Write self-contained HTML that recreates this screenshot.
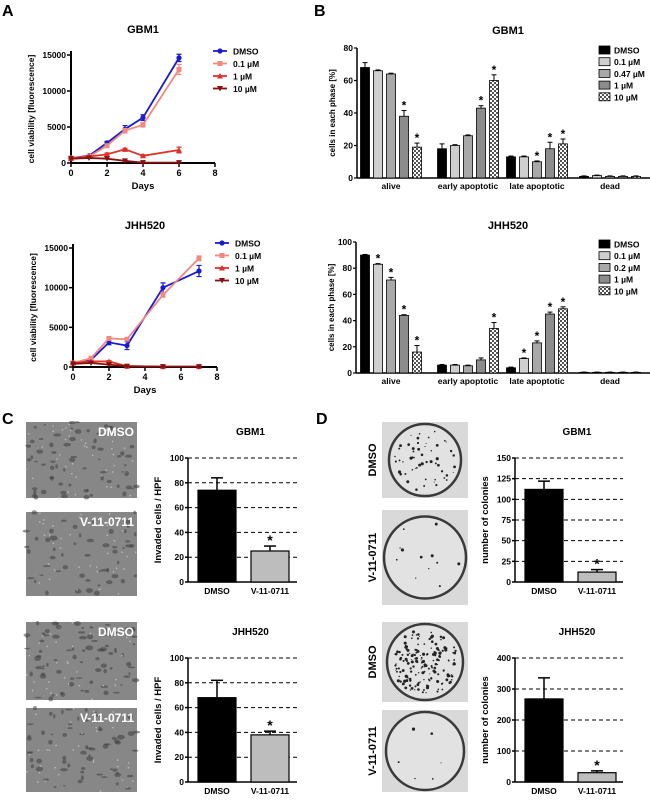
<!DOCTYPE html>
<html><head><meta charset="utf-8"><style>
body{margin:0;background:#fff;}
svg text{font-family:"Liberation Sans",Arial,sans-serif;font-weight:bold;}
</style></head><body>
<svg id="fig" width="650" height="795" viewBox="0 0 650 795" xmlns="http://www.w3.org/2000/svg">
<defs>
<pattern id="checker" width="4" height="4" patternUnits="userSpaceOnUse"><rect width="4" height="4" fill="#fff"/><rect width="2" height="2" fill="#555"/><rect x="2" y="2" width="2" height="2" fill="#555"/></pattern>
</defs>
<text x="2" y="16" font-size="16">A</text>
<text x="314" y="16" font-size="16">B</text>
<text x="2" y="424" font-size="16">C</text>
<text x="316" y="424" font-size="16">D</text>
</svg>
<script>
// ---- Panel A data ----
const gbmDays = [0,1,2,3,4,6];
const gbmDMSO = [700,1000,2800,4700,6300,14600];
const gbm01 = [700,900,2400,4500,5300,13000];
const gbm1 = [600,900,1200,1900,1000,1800];
const gbm10 = [600,700,600,300,50,50];
const gbmErr = [[100,100,200,500,400,500],[100,100,200,300,300,700],[100,100,200,150,150,400],[50,50,50,50,30,30]];
const jhhDays = [0,1,2,3,5,7];
const jhhDMSO = [500,900,3100,2700,10000,12100];
const jhh01 = [500,1100,3600,3500,9100,13700];
const jhh1 = [500,700,700,100,50,50];
const jhh10 = [400,500,300,100,50,50];
const jhhErr = [[100,100,300,500,600,700],[100,100,200,200,300,300],[50,50,100,50,30,30],[50,50,50,50,30,30]];
const lineLegend = ["DMSO","0.1 \u00b5M","1 \u00b5M","10 \u00b5M"];
const lineYTicks = [0,5000,10000,15000];
const lineXTicks = [0,2,4,6,8];
// ---- Panel B data ----
const phaseCats = ["alive","early apoptotic","late apoptotic","dead"];
const bGbm = [[68,66,64,38,19],[18,20,26,43,60],[13,13,10,18,21],[1,1.5,1,1,1]];
const bGbmErr = [[3,0.5,0.5,3.5,2.5],[3,0.5,0.5,1.5,3.5],[0.5,0.5,0.5,4,3],[0.3,0.3,0.3,0.3,0.3]];
const bGbmStar = [[0,0,0,1,1],[0,0,0,1,1],[0,0,1,1,1],[0,0,0,0,0]];
const bGbmLegend = ["DMSO","0.1 \u00b5M","0.47 \u00b5M","1 \u00b5M","10 \u00b5M"];
const bJhh = [[90,83,71,44,16],[6,6,5.5,10,34],[4,11,23,45,49],[0.5,0.5,0.5,0.5,0.5]];
const bJhhErr = [[0.5,0.5,2,0.5,5],[0.5,0.5,0.5,1.5,4.5],[0.5,0.5,1.5,1.5,1.5],[0.2,0.2,0.2,0.2,0.2]];
const bJhhStar = [[0,1,1,1,1],[0,0,0,0,1],[0,1,1,1,1],[0,0,0,0,0]];
const bJhhLegend = ["DMSO","0.1 \u00b5M","0.2 \u00b5M","1 \u00b5M","10 \u00b5M"];
// ---- Panel C/D data ----
const treatCats = ["DMSO","V-11-0711"];
const cGbm = [74,25]; const cGbmErr = [10,4];
const cJhh = [68,38]; const cJhhErr = [14,3];
const cTicks = [0,20,40,60,80,100];
const dGbm = [112,12]; const dGbmErr = [10,3];
const dGbmTicks = [0,25,50,75,100,125,150];
const dJhh = [268,30]; const dJhhErr = [68,6];
const dJhhTicks = [0,100,200,300,400];

const svg = document.getElementById('fig');
const NS = 'http://www.w3.org/2000/svg';
function mk(tag, attrs, name, parent){
  const el = document.createElementNS(NS, tag);
  for (const k in attrs) el.setAttribute(k, attrs[k]);
  
  
  (parent||svg).appendChild(el);
  return el;
}
function txt(x,y,s,size,name,anchor,extra){
  const a = Object.assign({x:x,y:y,'font-size':size,'text-anchor':anchor||'middle'}, extra||{});
  const t = mk('text', a, name);
  t.textContent = s;
  return t;
}
const lineColors = ['#1a1ad2','#f08a80','#e0302a','#8a1010'];
function marker(type,x,y,c,name){
  if(type===0) mk('circle',{cx:x,cy:y,r:2.6,fill:c},name);
  else if(type===1) mk('rect',{x:x-2.5,y:y-2.5,width:5,height:5,fill:c},name);
  else if(type===2) mk('polygon',{points:`${x},${y-3} ${x-3},${y+2.5} ${x+3},${y+2.5}`,fill:c},name);
  else mk('polygon',{points:`${x},${y+3} ${x-3},${y-2.5} ${x+3},${y-2.5}`,fill:c},name);
}
function lineChart(o){
  const xs = v => o.x0 + (o.x1-o.x0)*v/8;
  const ys = v => o.y0 - (o.y0-o.yt)*v/15000;
  txt((o.x0+o.x1)/2, o.title_y, o.title, 11, 'chart-title');
  mk('line',{x1:o.x0,y1:o.y0,x2:o.x0,y2:ys(15000)-4,stroke:'#000','stroke-width':2},'y-axis');
  mk('line',{x1:o.x0,y1:o.y0,x2:o.x1,y2:o.y0,stroke:'#000','stroke-width':2},'x-axis');
  lineYTicks.forEach(v=>{
    mk('line',{x1:o.x0-4,y1:ys(v),x2:o.x0,y2:ys(v),stroke:'#000','stroke-width':1.5},'y-tick');
    txt(o.x0-5, ys(v)+3, String(v), 8.5, 'y-tick-label','end');
  });
  lineXTicks.forEach(v=>{
    mk('line',{x1:xs(v),y1:o.y0,x2:xs(v),y2:o.y0+4,stroke:'#000','stroke-width':1.5},'x-tick');
    txt(xs(v), o.y0+13, String(v), 9, 'x-tick-label');
  });
  txt((o.x0+o.x1)/2, o.y0+26, 'Days', 9.5, 'x-axis-title');
  txt(0,0,'cell viability [fluorescence]',8.5,'y-axis-title','middle',{transform:`translate(${o.x0-37},${(o.y0+o.yt)/2}) rotate(-90)`});
  o.series.forEach((s,si)=>{
    const c = lineColors[si];
    const pts = s.map((v,i)=>xs(o.days[i])+','+ys(v)).join(' ');
    mk('polyline',{points:pts,fill:'none',stroke:c,'stroke-width':1.8},'series-line-'+si);
    s.forEach((v,i)=>{
      const e = o.err[si][i];
      const x = xs(o.days[i]);
      mk('path',{d:`M${x},${ys(v+e)}V${ys(v-e)}M${x-2.5},${ys(v+e)}H${x+2.5}M${x-2.5},${ys(v-e)}H${x+2.5}`,stroke:c,'stroke-width':1.2,fill:'none'},'error-bar');
      marker(si,x,ys(v),c,'data-point');
    });
  });
  lineLegend.forEach((l,i)=>{
    const y = o.leg_y + i*12.5;
    mk('line',{x1:o.leg_x,y1:y,x2:o.leg_x+14,y2:y,stroke:lineColors[i],'stroke-width':1.8},'legend-line');
    marker(i,o.leg_x+7,y,lineColors[i],'legend-marker');
    txt(o.leg_x+20,y+3.5,l,8.5,'legend-entry','start');
  });
}
lineChart({x0:71,x1:215,y0:163,yt:55,title:'GBM1',title_y:33,days:gbmDays,series:[gbmDMSO,gbm01,gbm1,gbm10],err:gbmErr,leg_x:213,leg_y:51});
lineChart({x0:73,x1:217,y0:367,yt:248,title:'JHH520',title_y:229,days:jhhDays,series:[jhhDMSO,jhh01,jhh1,jhh10],err:jhhErr,leg_x:215,leg_y:243});

const barFills = ['#000','#cfcfcf','#a8a8a8','#8c8c8c','url(#checker)'];
function phaseChart(o){
  const ys = v => o.y0 - (o.y0-o.yt)*v/o.ymax;
  txt(o.tx, o.title_y, o.title, 11, 'chart-title');
  mk('line',{x1:o.x0,y1:o.y0,x2:o.x0,y2:o.yt,stroke:'#000','stroke-width':1.5},'y-axis');
  mk('line',{x1:o.x0,y1:o.y0,x2:650,y2:o.y0,stroke:'#000','stroke-width':1.5},'x-axis');
  o.ticks.forEach(v=>{
    mk('line',{x1:o.x0-3,y1:ys(v),x2:o.x0,y2:ys(v),stroke:'#000','stroke-width':1.2},'y-tick');
    txt(o.x0-4, ys(v)+3, String(v), 8.5, 'y-tick-label','end');
  });
  txt(0,0,'cells in each phase [%]',8,'y-axis-title','middle',{transform:`translate(${o.x0-22},${(o.y0+o.yt)/2}) rotate(-90)`});
  const centers=[391,468,537,610];
  phaseCats.forEach((cat,ci)=>{
    txt(centers[ci], o.y0+11, cat, 8.5, 'x-category-label');
    o.data[ci].forEach((v,bi)=>{
      const x = centers[ci] + (bi-2)*13 - 4.5;
      const y = ys(v), e=o.err[ci][bi];
      mk('line',{x1:x+4.5,y1:y,x2:x+4.5,y2:ys(v+e),stroke:'#000','stroke-width':1},'error-bar');
      mk('line',{x1:x+2,y1:ys(v+e),x2:x+7,y2:ys(v+e),stroke:'#000','stroke-width':1},'error-cap');
      mk('rect',{x:x,y:y,width:9,height:o.y0-y,fill:barFills[bi],stroke:'#000','stroke-width':0.8},'bar-'+cat.replace(' ','-')+'-'+bi);
      if(o.star[ci][bi]) txt(x+4.5, ys(v+e)-1, '*', 12, 'significance-star');
    });
  });
  o.legend.forEach((l,i)=>{
    const y = o.leg_y + i*11.7;
    mk('rect',{x:599,y:y-4,width:11,height:8,fill:barFills[i],stroke:'#000','stroke-width':0.8},'legend-swatch');
    txt(614,y+3.5,l,8.5,'legend-entry','start');
  });
}
phaseChart({x0:357,y0:178,yt:48,ymax:80,ticks:[0,20,40,60,80],title:'GBM1',tx:508,title_y:34,data:bGbm,err:bGbmErr,star:bGbmStar,legend:bGbmLegend,leg_y:50});
phaseChart({x0:356,y0:373,yt:242,ymax:100,ticks:[0,20,40,60,80,100],title:'JHH520',tx:508,title_y:229,data:bJhh,err:bJhhErr,star:bJhhStar,legend:bJhhLegend,leg_y:244});

function treatChart(o){
  const tmax = o.ticks[o.ticks.length-1];
  const ys = v => o.y0 - (o.y0-o.yt)*v/tmax;
  txt((o.x0+o.x1)/2+8, o.y0-147+o.tOff, o.title, 10, 'chart-title');
  o.ticks.forEach(v=>{
    if(v>0) mk('line',{x1:o.x0,y1:ys(v),x2:o.x1,y2:ys(v),stroke:'#000','stroke-width':1,'stroke-dasharray':'4,3'},'grid-line');
    mk('line',{x1:o.x0-3,y1:ys(v),x2:o.x0,y2:ys(v),stroke:'#000','stroke-width':1.5},'y-tick');
    txt(o.x0-4, ys(v)+3, String(v), 8.5, 'y-tick-label','end');
  });
  mk('line',{x1:o.x0,y1:o.y0,x2:o.x0,y2:o.yt,stroke:'#000','stroke-width':1.5},'y-axis');
  mk('line',{x1:o.x0,y1:o.y0,x2:o.x1,y2:o.y0,stroke:'#000','stroke-width':1.5},'x-axis');
  txt(0,0,o.ylab,9.5,'y-axis-title','middle',{transform:`translate(${o.x0-27},${(o.y0+o.yt)/2}) rotate(-90)`});
  const bw = 38;
  treatCats.forEach((c,i)=>{
    const x = o.x0 + 10 + i*53;
    const v=o.data[i], e=o.err[i];
    mk('line',{x1:x+bw/2,y1:ys(v),x2:x+bw/2,y2:ys(v+e),stroke:'#000','stroke-width':1.5},'error-bar');
    mk('line',{x1:x+bw/2-6,y1:ys(v+e),x2:x+bw/2+6,y2:ys(v+e),stroke:'#000','stroke-width':1.5},'error-cap');
    mk('rect',{x:x,y:ys(v),width:bw,height:o.y0-ys(v),fill:i?'#bdbdbd':'#000',stroke:'#000','stroke-width':1.2},'bar-'+c.toLowerCase());
    txt(x+bw/2, o.y0+12, c, 8.5, 'x-category-label');
    if(i) txt(x+bw/2, ys(v+e)-1, '*', 14, 'significance-star');
  });
}
treatChart({x0:188,x1:297,y0:582,yt:458,ticks:cTicks,title:'GBM1',tOff:0,data:cGbm,err:cGbmErr,ylab:'Invaded cells / HPF'});
treatChart({x0:188,x1:297,y0:782,yt:658,ticks:cTicks,title:'JHH520',tOff:0,data:cJhh,err:cJhhErr,ylab:'Invaded cells / HPF'});
treatChart({x0:515,x1:623,y0:582,yt:458,ticks:dGbmTicks,title:'GBM1',tOff:0,data:dGbm,err:dGbmErr,ylab:'number of colonies'});
treatChart({x0:515,x1:623,y0:782,yt:658,ticks:dJhhTicks,title:'JHH520',tOff:0,data:dJhh,err:dJhhErr,ylab:'number of colonies'});

// micrograph images (panel C)
let seed = 7;
function rnd(){ seed = (seed*9301+49297)%233280; return seed/233280; }
function micro(x,y,w,h,label,name,dense){
  mk('rect',{x:x,y:y,width:w,height:h,fill:'#878787'},name);
  for(let i=0;i<dense;i++){
    const dark = rnd()>0.3;
    mk('ellipse',{cx:x+rnd()*w,cy:y+rnd()*h,rx:dark?1+rnd()*3:0.8,ry:dark?0.8+rnd()*1.8:0.8,fill:dark?'#3e3e3e':'#c8c8c8',opacity:dark?0.55:0.8},'cell-spot');
  }
  txt(x+w-3,y+14,label,12,'image-label','end',{fill:'#fff'});
}
micro(26,422,111,76,'DMSO','micrograph-gbm1-dmso',110);
micro(26,512,111,84,'V-11-0711','micrograph-gbm1-v11',90);
micro(26,622,111,78,'DMSO','micrograph-jhh520-dmso',110);
micro(26,708,111,84,'V-11-0711','micrograph-jhh520-v11',100);
// colony plates (panel D)
function plate(x,y,w,h,label,name,dots){
  mk('rect',{x:x,y:y,width:w,height:h,fill:'#d9d9d9'},name);
  const cx=x+w/2, cy=y+h/2, r=Math.min(w,h)/2-2;
  mk('circle',{cx:cx,cy:cy,r:r,fill:'#e2e2e2',stroke:'#3a3a3a','stroke-width':2.5},'plate-ring');
  for(let i=0;i<dots;i++){
    const a=rnd()*6.283, d=Math.sqrt(rnd())*(r-5);
    mk('circle',{cx:cx+Math.cos(a)*d,cy:cy+Math.sin(a)*d,r:0.5+rnd()*1.1,fill:'#222'},'colony');
  }
  txt(0,0,label,11,'plate-label','middle',{transform:`translate(${x-6},${cy}) rotate(-90)`});
}
plate(382,422,86,76,'DMSO','plate-gbm1-dmso',55);
plate(382,510,86,95,'V-11-0711','plate-gbm1-v11',12);
plate(382,622,86,80,'DMSO','plate-jhh520-dmso',170);
plate(382,710,86,82,'V-11-0711','plate-jhh520-v11',6);
</script>
</body></html>
